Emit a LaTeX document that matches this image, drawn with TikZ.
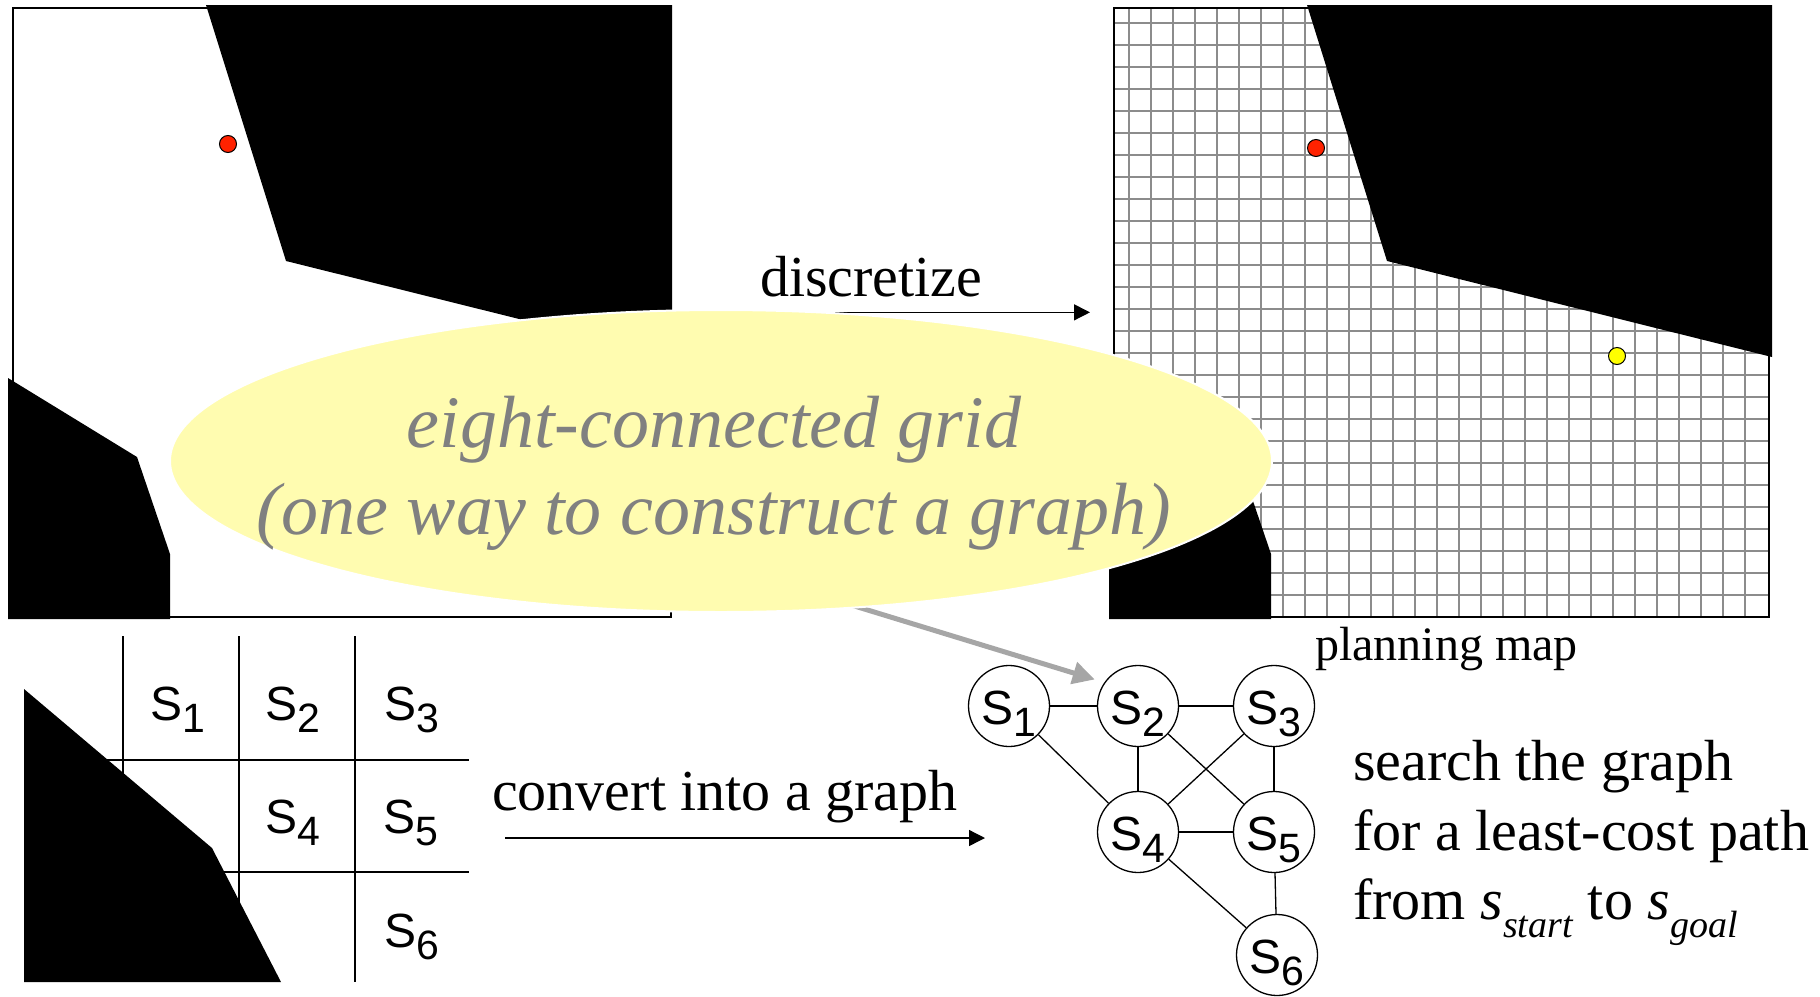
\documentclass[tikz,border=0pt]{standalone}
\usepackage{fontspec}
\setmainfont{Liberation Serif}
\newfontfamily\arialf{Liberation Sans}
\usetikzlibrary{arrows.meta,shapes.geometric}
\definecolor{ellfill}{RGB}{255,252,176}
\definecolor{gridgray}{RGB}{140,140,140}
\definecolor{arrowgray}{RGB}{166,166,166}
\definecolor{dotred}{RGB}{255,34,0}
\definecolor{dotyellow}{RGB}{255,255,0}
\definecolor{elltext}{RGB}{128,128,128}
\newcommand{\Slab}[1]{{\arialf\fontsize{48}{48}\selectfont S\raisebox{-12pt}{\fontsize{41}{41}\selectfont #1}}}
\begin{document}
\begin{tikzpicture}[x=1pt,y=-1pt,
  obst/.style={fill=black},
  mapframe/.style={rectangle,draw=black,line width=1.7pt,inner sep=0,anchor=north west},
  gridline/.style={draw=gridgray,line width=2pt},
  dot/.style={circle,draw=black,line width=1pt,minimum size=17pt,inner sep=0},
  gnode/.style={circle,draw=black,line width=1.3pt,minimum size=81pt,inner sep=0,fill=white},
  gedge/.style={draw=black,line width=1.3pt},
  arr/.style={draw=black,line width=1.3pt,-{Triangle[length=16pt,width=16pt]}},
  cellline/.style={draw=black,line width=1.3pt},
  txt/.style={font=\fontsize{58}{65}\selectfont,inner sep=0,anchor=base west},
  elltxt/.style={font=\itshape\fontsize{74}{87}\selectfont,text=elltext,inner sep=0,anchor=base},
  cellab/.style={inner sep=0}
]
\useasboundingbox (0,0) rectangle (1820,996);

% ---------- left map ----------
\node[mapframe,minimum width=658pt,minimum height=609pt] (lmap) at (12,7) {};
\fill[obst] (206,5) -- (672,5) -- (672,357) -- (286,261) -- cycle;
\fill[obst] (8,378) -- (137,457) -- (170,554) -- (170,619) -- (8,619) -- cycle;
\node[dot,fill=dotred] (rd1) at (228,144) {};

% ---------- right map ----------
\foreach \k in {0,...,28} \draw[gridline] ({1129.3+22*\k},7) -- ({1129.3+22*\k},616);
\foreach \k in {0,...,26} \draw[gridline] (1113,{22.7+22*\k}) -- (1768,{22.7+22*\k});
\node[mapframe,minimum width=655pt,minimum height=609pt] (rmap) at (1113,7) {};
\fill[obst] (1307,5) -- (1772,5) -- (1772,357) -- (1387,261) -- cycle;
\fill[obst] (1109,378) -- (1238,457) -- (1271,554) -- (1271,619) -- (1109,619) -- cycle;
\node[dot,fill=dotred] (rd2) at (1316,148) {};
\node[dot,fill=dotyellow] (yd) at (1617,356) {};

% ---------- bottom-left cells ----------
\draw[cellline] (123,636) -- (123,982);
\draw[cellline] (239,636) -- (239,982);
\draw[cellline] (355,636) -- (355,982);
\draw[cellline] (60,760) -- (469,760);
\draw[cellline] (60,872) -- (469,872);
\fill[obst] (24,689) -- (212,848) -- (281,982) -- (24,982) -- cycle;
\node[cellab] (c1) at (178,710) {\Slab{1}};
\node[cellab] (c2) at (293,710) {\Slab{2}};
\node[cellab] (c3) at (412,710) {\Slab{3}};
\node[cellab] (c4) at (293,823) {\Slab{4}};
\node[cellab] (c5) at (411,823) {\Slab{5}};
\node[cellab] (c6) at (412,937) {\Slab{6}};

% ---------- graph ----------
\node[gnode,label={[yshift=-8pt,inner sep=0]center:\Slab{1}}] (g1) at (1009,706) {};
\node[gnode,label={[yshift=-8pt,inner sep=0]center:\Slab{2}}] (g2) at (1138,706) {};
\node[gnode,label={[yshift=-8pt,inner sep=0]center:\Slab{3}}] (g3) at (1274,706) {};
\node[gnode,label={[yshift=-8pt,inner sep=0]center:\Slab{4}}] (g4) at (1138,832) {};
\node[gnode,label={[yshift=-8pt,inner sep=0]center:\Slab{5}}] (g5) at (1274,832) {};
\node[gnode,label={[yshift=-8pt,inner sep=0]center:\Slab{6}}] (g6) at (1277,955) {};
\draw[gedge] (g1) -- (g2);
\draw[gedge] (g2) -- (g3);
\draw[gedge] (g1) -- (g4);
\draw[gedge] (g2) -- (g4);
\draw[gedge] (g2) -- (g5);
\draw[gedge] (g3) -- (g4);
\draw[gedge] (g3) -- (g5);
\draw[gedge] (g4) -- (g5);
\draw[gedge] (g4) -- (g6);
\draw[gedge] (g5) -- (g6);

% ---------- arrows ----------
\draw[arr,shorten <=90pt,shorten >=23pt] (lmap.east) -- (rmap.west);
\coordinate (gstart) at (848,604);
\draw[draw=arrowgray,line width=5pt,-{Triangle[length=22pt,width=22pt]},shorten >=10pt] (gstart) -- (g2.145);
\coordinate (cvA) at (505,838);
\coordinate (cvB) at (985,838);
\draw[arr] (cvA) -- (cvB);

% ---------- ellipse ----------
\node[ellipse,fill=ellfill,draw=white,line width=2pt,minimum width=1102pt,minimum height=302pt,inner sep=0] (ell) at (721,461) {};
\node[elltxt] (et1) at (714,447) {eight-connected grid};
\node[elltxt] (et2) at (714,534) {(one way to construct a graph)};

% ---------- texts ----------
\node[txt] (tdisc) at (760,296) {discretize};
\node[txt,font=\fontsize{48}{48}\selectfont] (tplan) at (1315,660) {planning map};
\node[txt] (tconv) at (492,810) {convert into a graph};
\node[txt] (ts1) at (1353,780) {search the graph};
\node[txt] (ts2) at (1353,850) {for a least-cost path};
\node[txt] (ts3) at (1353,919) {from \textit{s}\raisebox{-18pt}{\fontsize{38}{38}\selectfont\textit{start}} to \textit{s}\raisebox{-18pt}{\fontsize{38}{38}\selectfont\textit{goal}}};
\end{tikzpicture}
\end{document}
